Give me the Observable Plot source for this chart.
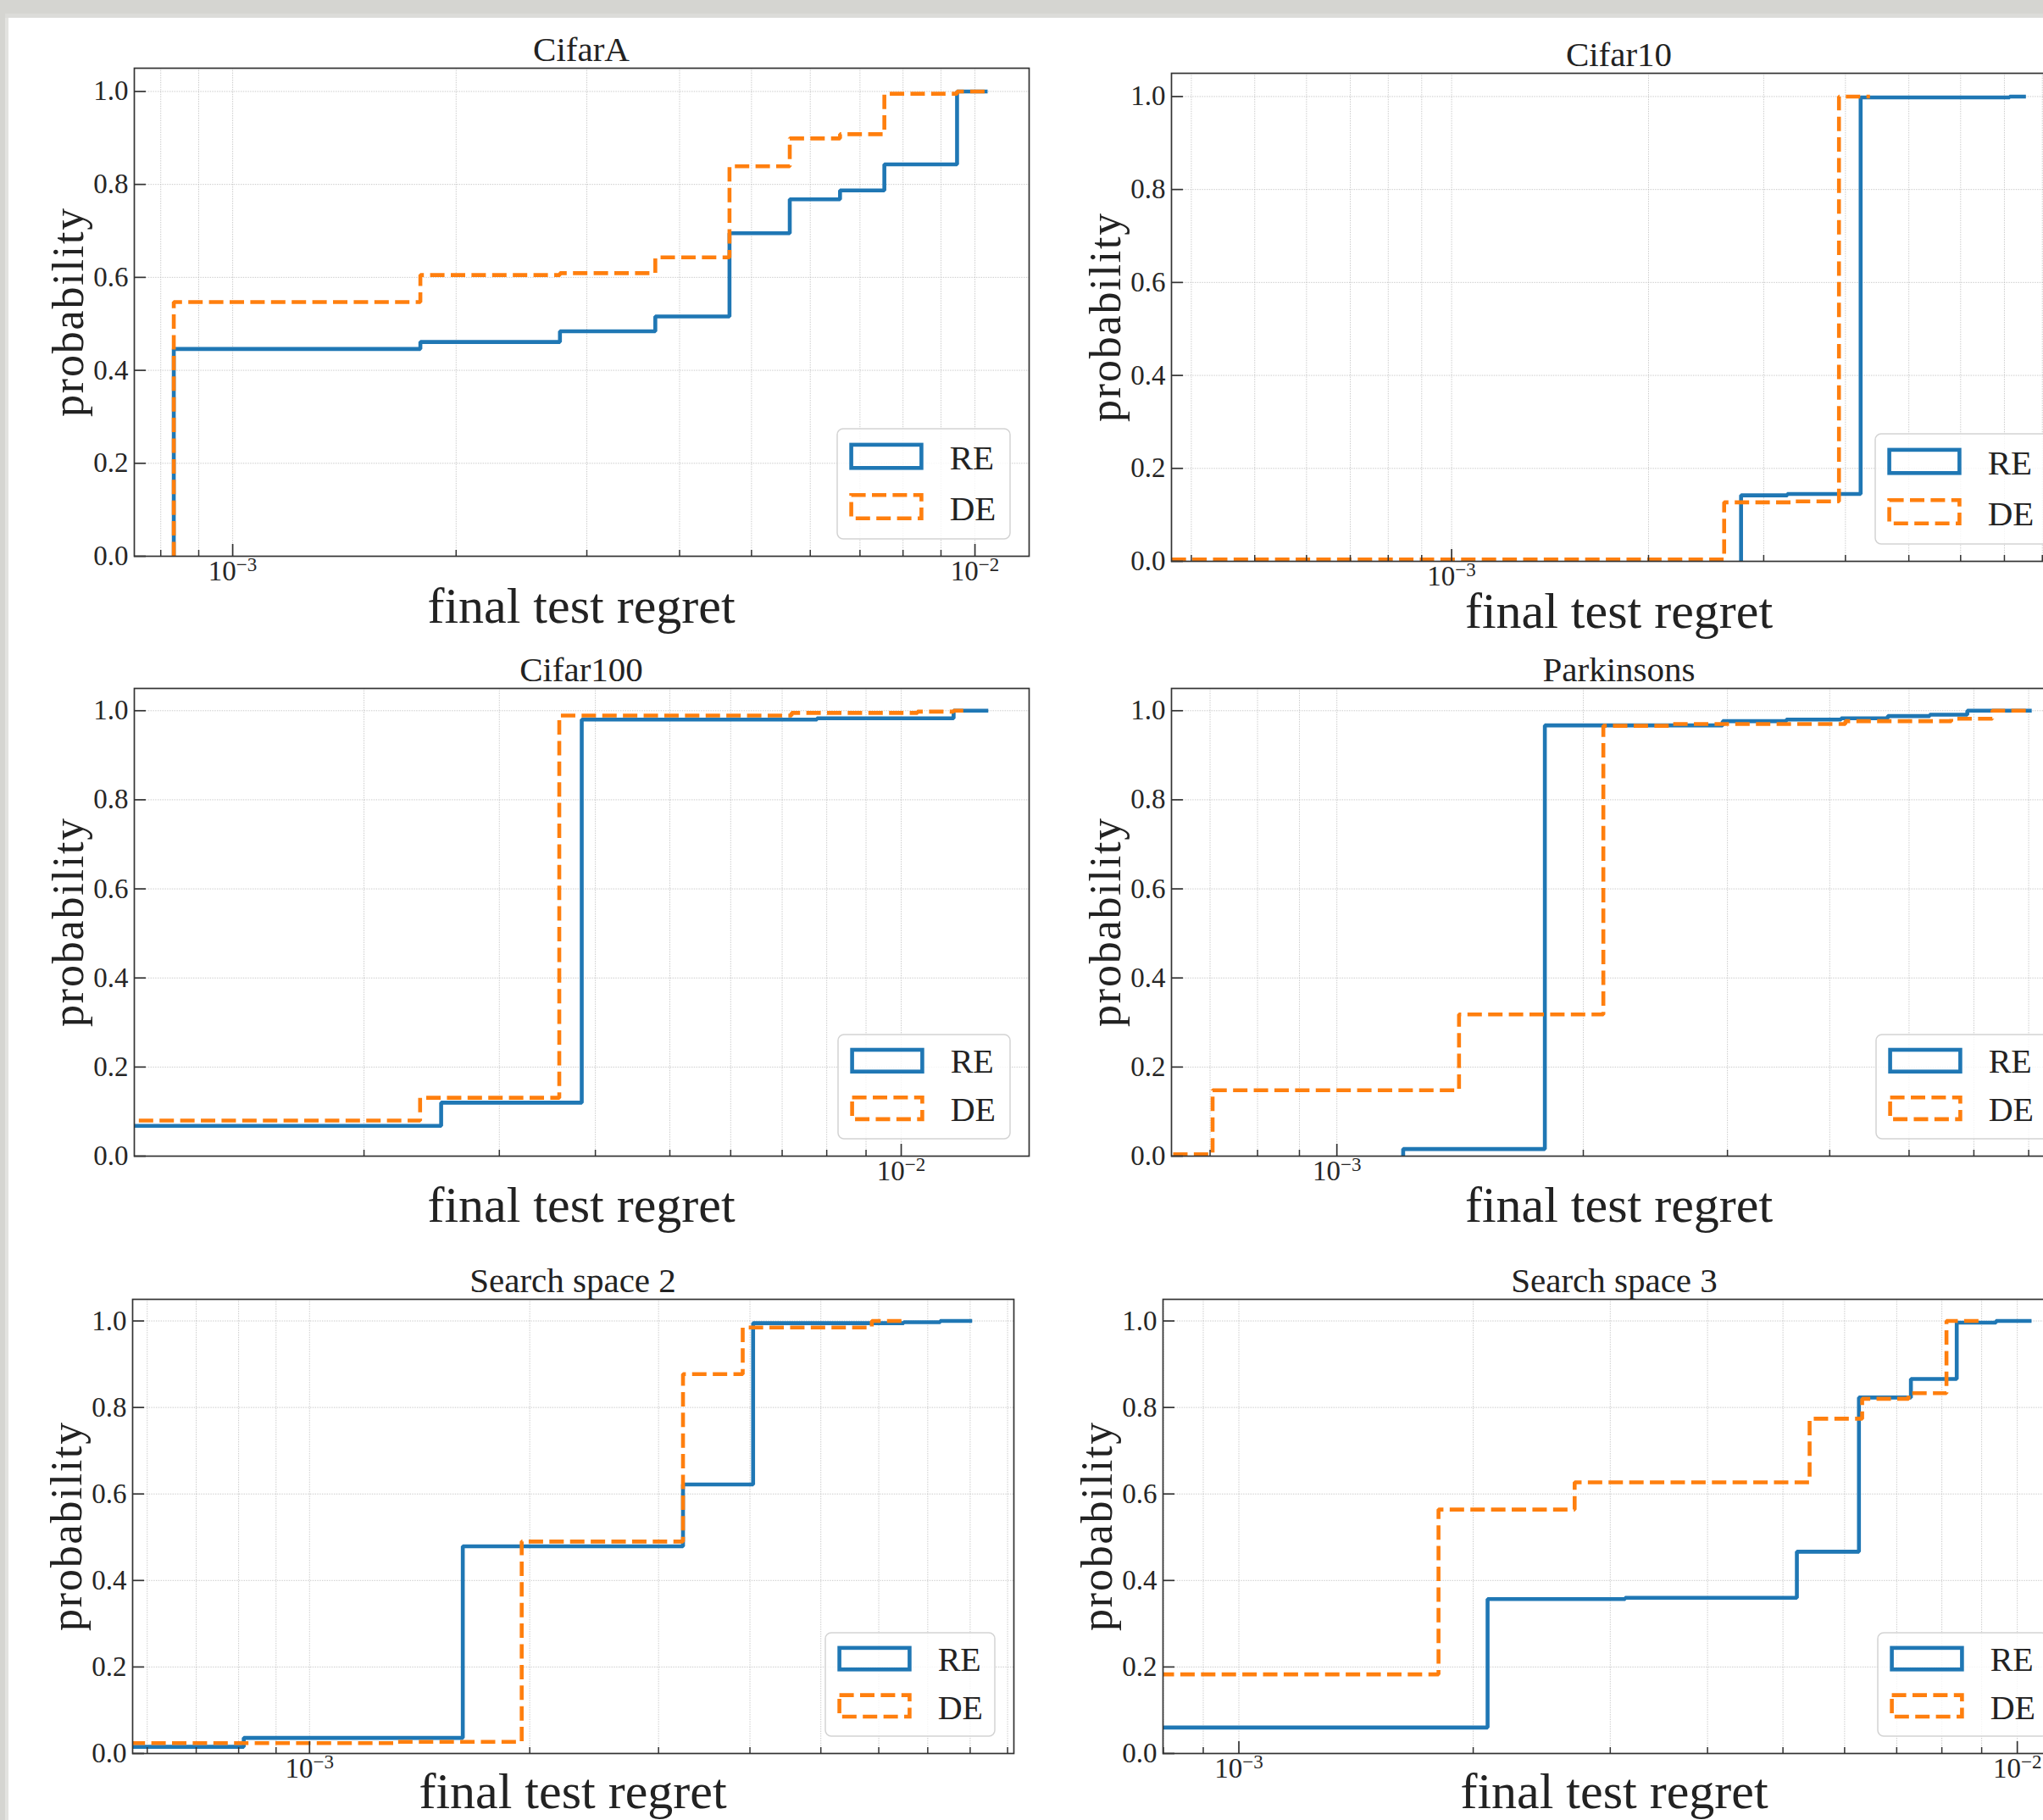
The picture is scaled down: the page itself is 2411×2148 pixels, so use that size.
<!DOCTYPE html>
<html>
<head>
<meta charset="utf-8">
<script src="https://cdn.jsdelivr.net/npm/d3@7"></script>
<script src="https://cdn.jsdelivr.net/npm/@observablehq/plot@0.6"></script>
<style>
html,body{margin:0;padding:0;background:#fff;overflow:hidden;}
#root{position:relative;width:2411px;height:2148px;overflow:hidden;background:#fff;}
#root svg{max-width:none !important;}
.panel{position:absolute;}
</style>
</head>
<body>
<div id="root"></div>
<script>
// ---------------- DATA ----------------
const titles = ["CifarA", "Cifar10", "Cifar100", "Parkinsons", "Search space 2", "Search space 3"];
const seriesNames = ["RE", "DE"];
const xLabel = "final test regret";
const yLabel = "probability";
const yTicks = [0, 0.2, 0.4, 0.6, 0.8, 1.0];
const xDomains = [
  [7.37e-4, 1.183e-2],
  [3.73e-4, 8.73e-3],
  [1.005e-3, 1.467e-2],
  [6.28e-4, 7.8e-3],
  [5.73e-4, 9.18e-3],
  [7.99e-4, 1.156e-2]
];

const cifarA_RE_x = [8.33e-4, 8.33e-4, 1.79e-3, 2.76e-3, 3.71e-3, 4.67e-3, 5.63e-3, 6.58e-3, 7.55e-3, 9.46e-3, 1.04e-2];
const cifarA_RE_y = [0, 0.446, 0.461, 0.484, 0.516, 0.695, 0.768, 0.787, 0.843, 1.0, 1.0];
const cifarA_DE_x = [8.33e-4, 8.33e-4, 1.79e-3, 2.76e-3, 3.71e-3, 4.67e-3, 5.63e-3, 6.58e-3, 7.55e-3, 9.46e-3, 1.04e-2];
const cifarA_DE_y = [0, 0.547, 0.605, 0.609, 0.643, 0.839, 0.899, 0.908, 0.995, 1.0, 1.0];

const cifar10_RE_x = [2.77e-3, 2.77e-3, 3.26e-3, 4.22e-3, 7.13e-3, 7.55e-3];
const cifar10_RE_y = [0, 0.142, 0.145, 0.998, 1.0, 1.0];
const cifar10_DE_x = [3.0e-4, 2.61e-3, 3.3e-3, 3.91e-3, 4.36e-3];
const cifar10_DE_y = [0.004, 0.127, 0.129, 1.0, 1.0];

const cifar100_RE_x = [9.0e-4, 2.52e-3, 3.84e-3, 7.77e-3, 1.17e-2, 1.298e-2];
const cifar100_RE_y = [0.068, 0.120, 0.980, 0.983, 1.0, 1.0];
const cifar100_DE_x = [9.0e-4, 2.366e-3, 3.59e-3, 7.2e-3, 1.05e-2, 1.17e-2, 1.216e-2];
const cifar100_DE_y = [0.080, 0.131, 0.989, 0.995, 0.998, 1.0, 1.0];

const parkinsons_RE_x = [1.205e-3, 1.205e-3, 1.795e-3, 2.96e-3, 3.54e-3, 4.13e-3, 4.71e-3, 5.3e-3, 5.89e-3, 7.06e-3];
const parkinsons_RE_y = [0, 0.016, 0.967, 0.9765, 0.980, 0.983, 0.988, 0.991, 1.0, 1.0];
const parkinsons_DE_x = [5.0e-4, 7.05e-4, 1.41e-3, 2.116e-3, 2.566e-3, 4.18e-3, 5.63e-3, 6.32e-3, 7.0e-3];
const parkinsons_DE_y = [0.004, 0.148, 0.318, 0.966, 0.970, 0.9765, 0.982, 1.0, 1.0];

const ss2_RE_x = [5.0e-4, 8.13e-4, 1.62e-3, 3.24e-3, 4.04e-3, 6.49e-3, 7.28e-3, 8.05e-3];
const ss2_RE_y = [0.0155, 0.036, 0.479, 0.622, 0.995, 0.997, 1.0, 1.0];
const ss2_DE_x = [5.0e-4, 1.306e-3, 1.95e-3, 3.24e-3, 3.91e-3, 5.87e-3, 6.49e-3];
const ss2_DE_y = [0.024, 0.027, 0.490, 0.877, 0.985, 1.0, 1.0];

const ss3_RE_x = [7.0e-4, 2.087e-3, 3.135e-3, 5.21e-3, 6.26e-3, 7.3e-3, 8.36e-3, 9.39e-3, 1.043e-2];
const ss3_RE_y = [0.060, 0.357, 0.360, 0.4665, 0.823, 0.866, 0.996, 1.0, 1.0];
const ss3_DE_x = [7.0e-4, 1.805e-3, 2.7e-3, 5.41e-3, 6.32e-3, 7.25e-3, 8.11e-3, 8.97e-3];
const ss3_DE_y = [0.183, 0.564, 0.627, 0.774, 0.820, 0.833, 1.0, 1.0];

const reX = [cifarA_RE_x, cifar10_RE_x, cifar100_RE_x, parkinsons_RE_x, ss2_RE_x, ss3_RE_x];
const reY = [cifarA_RE_y, cifar10_RE_y, cifar100_RE_y, parkinsons_RE_y, ss2_RE_y, ss3_RE_y];
const deX = [cifarA_DE_x, cifar10_DE_x, cifar100_DE_x, parkinsons_DE_x, ss2_DE_x, ss3_DE_x];
const deY = [cifarA_DE_y, cifar10_DE_y, cifar100_DE_y, parkinsons_DE_y, ss2_DE_y, ss3_DE_y];

// ---------------- LAYOUT / STYLE ----------------
const FONT = "'Liberation Serif', 'DejaVu Serif', serif";
const BLUE = "#1f77b4", ORANGE = "#ff7f0e";
const LW = 4.6, DASH = "17,7.4";
const AXIS = "#333333", TEXT = "#262626";
const frames = [
  {left: 158,  top: 80,   w: 1056, h: 576, legH: 130, legW: 204, legFs: 41, xlab: 79},
  {left: 1382, top: 86,   w: 1057, h: 576, legH: 130, legW: 204, legFs: 41, xlab: 79},
  {left: 158,  top: 812,  w: 1056, h: 552, legH: 123, legW: 203, legFs: 40, xlab: 78},
  {left: 1382, top: 812,  w: 1057, h: 552, legH: 123, legW: 203, legFs: 40, xlab: 78},
  {left: 156,  top: 1533, w: 1040, h: 536, legH: 122, legW: 200, legFs: 40, xlab: 65},
  {left: 1372, top: 1533, w: 1066, h: 536, legH: 122, legW: 200, legFs: 40, xlab: 65}
];
const M = {l: 80, r: 12, t: 12, b: 60};

const root = document.getElementById("root");

// window chrome bands
const bandTop = document.createElement("div");
bandTop.style.cssText = "position:absolute;left:0;top:0;width:2411px;height:16px;background:#d5d5d1;";
root.appendChild(bandTop);
const bandTop2 = document.createElement("div");
bandTop2.style.cssText = "position:absolute;left:0;top:16px;width:2411px;height:5px;background:#dcdcd9;";
root.appendChild(bandTop2);
const bandLeft = document.createElement("div");
bandLeft.style.cssText = "position:absolute;left:0;top:0;width:6px;height:2148px;background:#d5d5d1;";
root.appendChild(bandLeft);
const bandLeft2 = document.createElement("div");
bandLeft2.style.cssText = "position:absolute;left:6px;top:21px;width:4px;height:2127px;background:#e3e3e0;";
root.appendChild(bandLeft2);

const SVGNS = "http://www.w3.org/2000/svg";

frames.forEach((f, i) => {
  const domain = xDomains[i];
  const re = reX[i].map((x, k) => ({x, y: reY[i][k]}));
  const de = deX[i].map((x, k) => ({x, y: deY[i][k]}));
  const allTicks = d3.scaleLog().domain(domain).ticks();
  const isMajor = t => Math.abs(Math.log10(t) - Math.round(Math.log10(t))) < 1e-9;
  const majors = allTicks.filter(isMajor);
  const minors = allTicks.filter(t => !isMajor(t));

  const chart = Plot.plot({
    width: f.w + M.l + M.r,
    height: f.h + M.t + M.b,
    marginLeft: M.l, marginRight: M.r, marginTop: M.t, marginBottom: M.b,
    style: {fontFamily: FONT, color: AXIS, background: "transparent", overflow: "visible"},
    x: {type: "log", domain, label: null},
    y: {domain: [0, 1.05], label: null},
    marks: [
      Plot.gridX(allTicks, {stroke: "#b8b8b8", strokeOpacity: 0.75, strokeWidth: 1, strokeDasharray: "1.4,1.4"}),
      Plot.gridY(yTicks, {stroke: "#b8b8b8", strokeOpacity: 0.75, strokeWidth: 1, strokeDasharray: "1.4,1.4"}),
      Plot.line(re, {x: "x", y: "y", curve: "step-after", stroke: BLUE, strokeWidth: LW,
        strokeLinejoin: "miter", strokeLinecap: "butt", clip: true}),
      Plot.line(de, {x: "x", y: "y", curve: "step-after", stroke: ORANGE, strokeWidth: LW,
        strokeDasharray: DASH, strokeLinejoin: "miter", strokeLinecap: "butt", clip: true}),
      Plot.frame({stroke: AXIS, strokeWidth: 1.7}),
      Plot.axisX(minors, {tickSize: 7, dy: -7, fill: "none", stroke: AXIS, strokeWidth: 1.5, label: null}),
      Plot.axisX(majors, {tickSize: 14, dy: -14, fill: "none", stroke: AXIS, strokeWidth: 1.7, label: null}),
      Plot.axisY(yTicks, {tickSize: 14, dx: 14, fill: "none", stroke: AXIS, strokeWidth: 1.7, label: null}),
      Plot.axisX(majors, {tickSize: 0, tickPadding: 4.6, tickFormat: d => "10^" + Math.round(Math.log10(d)),
        fontSize: 33, fill: TEXT, label: null}),
      Plot.axisY(yTicks, {tickSize: 0, tickPadding: 7, tickFormat: d3.format(".1f"),
        fontSize: 33, fill: TEXT, label: null})
    ]
  });

  // superscript exponents on the log tick labels
  d3.select(chart).selectAll('g[aria-label="x-axis tick label"] text').each(function() {
    const m = this.textContent.match(/^10\^(-?\d+)$/);
    if (!m) return;
    this.textContent = "10";
    const ts = document.createElementNS(SVGNS, "tspan");
    ts.setAttribute("dy", "-11");
    ts.setAttribute("font-size", "23");
    ts.textContent = m[1].replace("-", "\u2212");
    this.appendChild(ts);
  });

  const holder = document.createElement("div");
  holder.className = "panel";
  holder.style.left = (f.left - M.l) + "px";
  holder.style.top = (f.top - M.t) + "px";
  holder.style.width = (f.w + M.l + M.r) + "px";
  holder.appendChild(chart);
  root.appendChild(holder);
});

// ---------------- overlay: titles, axis labels, legends ----------------
const ov = d3.select(root).append("svg")
  .attr("width", 2411).attr("height", 2148)
  .style("position", "absolute").style("left", "0px").style("top", "0px")
  .style("pointer-events", "none")
  .style("font-family", FONT);

frames.forEach((f, i) => {
  const cx = f.left + f.w / 2;
  const cy = f.top + f.h / 2;
  ov.append("text").attr("x", cx).attr("y", f.top - 8)
    .attr("text-anchor", "middle").attr("font-size", 41).attr("fill", "#222")
    .text(titles[i]);
  ov.append("text").attr("x", cx).attr("y", f.top + f.h + f.xlab)
    .attr("text-anchor", "middle").attr("font-size", 60).attr("fill", "#222")
    .text(xLabel);
  ov.append("text")
    .attr("transform", `translate(${f.left - 60},${cy}) rotate(-90)`)
    .attr("text-anchor", "middle").attr("font-size", 52).attr("letter-spacing", 1.8).attr("fill", "#222")
    .text(yLabel);

  // legend
  const s = f.legH / 130;
  const lx = f.left + f.w - 22 - f.legW;
  const ly = f.top + f.h - 20 - f.legH;
  const g = ov.append("g").attr("transform", `translate(${lx},${ly})`);
  g.append("rect").attr("x", 0).attr("y", 0).attr("width", f.legW).attr("height", f.legH)
    .attr("rx", 7).attr("fill", "#fff").attr("fill-opacity", 0.8)
    .attr("stroke", "#d3d3d3").attr("stroke-width", 1.5);
  const colors = [BLUE, ORANGE];
  const rowsY = [16.6, 76.0];
  const baseY = [47.6, 108.3];
  seriesNames.forEach((name, k) => {
    g.append("rect")
      .attr("x", 14.3 + LW / 2).attr("y", rowsY[k] * s + LW / 2)
      .attr("width", 87.4 - LW).attr("height", 32 * s - LW)
      .attr("fill", "none").attr("stroke", colors[k]).attr("stroke-width", LW)
      .attr("stroke-dasharray", k === 1 ? DASH : null)
      .attr("stroke-linejoin", "miter");
    g.append("text").attr("x", 132.7).attr("y", baseY[k] * s)
      .attr("font-size", f.legFs).attr("fill", "#222").text(name);
  });
});
</script>
</body>
</html>
